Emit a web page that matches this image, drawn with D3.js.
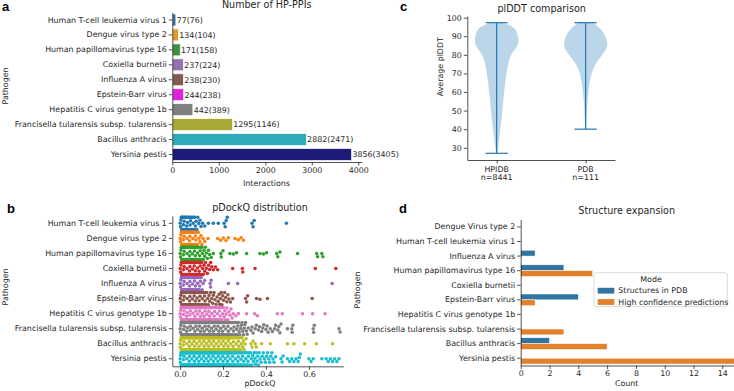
<!DOCTYPE html>
<html>
<head>
<meta charset="utf-8">
<script src="https://cdn.jsdelivr.net/npm/d3@7"></script>
<style>
body { margin: 0; background: #fff; }
svg { display: block; font-family: "DejaVu Sans", sans-serif; }
.axis text { font-family: "DejaVu Sans", sans-serif; font-size: 7.9px; fill: #262626; }
.axis path, .axis line { stroke: #262626; stroke-width: 0.8; }
.lbl { font-size: 7.9px; fill: #262626; }
.ttl { font-size: 9.6px; fill: #262626; }
.panel { font-family: "Liberation Sans", Arial, sans-serif; font-weight: bold; font-size: 13px; fill: #000; }
</style>
</head>
<body>
<svg id="fig" width="734" height="391"></svg>
<script>
// ---- panel a: number of HP-PPIs ----
const pathogens = ["Human T-cell leukemia virus 1", "Dengue virus type 2", "Human papillomavirus type 16",
    "Coxiella burnetii", "Influenza A virus", "Epstein-Barr virus", "Hepatitis C virus genotype 1b",
    "Francisella tularensis subsp. tularensis", "Bacillus anthracis", "Yersinia pestis"];
const interactions = [77, 134, 171, 237, 238, 244, 442, 1295, 2882, 3856];
const uniqueInteractions = [76, 104, 158, 224, 230, 238, 389, 1146, 2471, 3405];
const barColors = ["#3274a1", "#e09a2d", "#3a923a", "#9372b2", "#845b53", "#df22df", "#7f7f7f", "#a9aa35", "#2eabb8", "#1c1c78"];

// ---- panel b: pDockQ swarm (core = counts per 0.01 bin from 0, tail = single values) ----
const swarmColors = ["#1f77b4", "#ff7f0e", "#2ca02c", "#d62728", "#9467bd", "#8c564b", "#e377c2", "#7f7f7f", "#bcbd22", "#17becf"];
const pdockqCore = [
    [6, 6, 6, 5, 5, 5, 4, 3, 2, 2, 1],
    [6, 6, 6, 6, 6, 5, 5, 4, 3, 2, 2, 1],
    [6, 6, 6, 6, 6, 6, 5, 5, 4, 4, 3, 3, 2, 2, 1, 1],
    [6, 6, 6, 6, 6, 6, 6, 5, 5, 4, 3, 3, 2, 2, 2, 1, 1, 1],
    [6, 6, 6, 6, 6, 6, 5, 5, 4, 3, 2, 1],
    [6, 6, 6, 6, 6, 6, 6, 6, 5, 5, 4, 4, 3, 3, 2, 3, 2, 2, 3, 3, 2, 2, 2, 1, 1],
    [7, 7, 7, 7, 7, 7, 7, 7, 7, 7, 7, 7, 7, 6, 6, 5, 5, 4, 4, 3, 3, 3, 2, 2, 2],
    [7, 7, 7, 7, 7, 7, 7, 7, 7, 7, 7, 7, 7, 7, 7, 7, 7, 7, 7, 7, 6, 6, 5, 5, 4, 4, 4, 3, 3, 3, 3, 2],
    [8, 8, 8, 8, 8, 8, 8, 8, 8, 8, 8, 8, 8, 8, 8, 8, 8, 8, 8, 8, 8, 8, 7, 6, 5, 5, 4, 4, 3, 3, 2],
    [9, 9, 9, 9, 9, 9, 9, 9, 9, 9, 9, 9, 9, 9, 9, 9, 9, 9, 9, 9, 9, 9, 8, 7, 6, 6, 5, 5, 5, 4, 4, 4, 3, 3, 3, 3, 3, 2, 2, 2, 2, 2, 2, 2, 1]
];
const pdockqTail = [
    [0.115, 0.132, 0.155, 0.178, 0.205, 0.21, 0.215, 0.22, 0.335, 0.34, 0.345, 0.495],
    [0.13, 0.175, 0.189, 0.202, 0.214, 0.225, 0.256, 0.271, 0.284, 0.295],
    [0.19, 0.192, 0.2, 0.232, 0.248, 0.263, 0.31, 0.372, 0.388, 0.403, 0.45, 0.455, 0.465, 0.547, 0.636, 0.64, 0.66, 0.665],
    [0.245, 0.29, 0.292, 0.349, 0.63, 0.725],
    [0.14, 0.142, 0.145, 0.225, 0.268, 0.708],
    [0.305, 0.31, 0.315, 0.356, 0.372, 0.407, 0.615],
    [0.26, 0.272, 0.31, 0.347, 0.36, 0.453, 0.476, 0.57, 0.617, 0.675],
    [0.33, 0.335, 0.34, 0.35, 0.355, 0.365, 0.37, 0.38, 0.385, 0.39, 0.4, 0.405, 0.41, 0.42, 0.43, 0.44, 0.445,
     0.455, 0.46, 0.465, 0.47, 0.5, 0.52, 0.522, 0.525, 0.62, 0.622, 0.625, 0.74, 0.745],
    [0.33, 0.335, 0.34, 0.35, 0.355, 0.38, 0.42, 0.5, 0.53, 0.58, 0.635, 0.71],
    [0.47, 0.475, 0.48, 0.5, 0.51, 0.52, 0.53, 0.54, 0.55, 0.555, 0.56, 0.6, 0.61, 0.62, 0.66, 0.68, 0.69, 0.7, 0.71, 0.72, 0.73, 0.74]
];

// ---- panel c: plDDT violins ([value, relative half width]) ----
const violinGroups = ["HPIDB", "PDB"];
const violinN = [8441, 111];
const violinRange = [[27, 97.3], [40, 97.3]];
const hpidbDensity = [[97.3, 0.33], [95, 0.75], [93.4, 0.87], [90, 0.97], [86.5, 1.0], [83, 0.85], [80.8, 0.67],
    [78, 0.58], [75.4, 0.52], [72, 0.47], [68.2, 0.42], [64, 0.37], [59.3, 0.33], [55, 0.29], [50.3, 0.26],
    [46, 0.22], [41.3, 0.18], [37, 0.13], [32.4, 0.09], [29, 0.05], [27, 0.02]];
const pdbDensity = [[97.3, 0.35], [95, 0.58], [93.4, 0.72], [90, 0.9], [86.5, 0.97], [85, 0.98], [83, 0.92],
    [80.8, 0.8], [78, 0.62], [75.4, 0.45], [72, 0.32], [68.2, 0.22], [64, 0.16], [59.3, 0.12], [55, 0.08],
    [50.3, 0.06], [45, 0.04], [40, 0.02]];

// ---- panel d: structure expansion ----
const structPathogens = ["Dengue Virus type 2", "Human T-cell leukemia virus 1", "Influenza A virus",
    "Human papillomavirus type 16", "Coxiella burnetii", "Epstein-Barr virus", "Hepatitis C virus genotype 1b",
    "Francisella tularensis subsp. tularensis", "Bacillus anthracis", "Yersinia pestis"];
const structInPdb = [0, 0, 1, 3, 0, 4, 0, 0, 2, 0];
const highConfidence = [0, 0, 0, 5, 0, 1, 0, 3, 6, 15];
const modeNames = ["Structures in PDB", "High confidence predictions"];
const modeColors = ["#3274a1", "#e1812c"];

const svg = d3.select("#fig");

function panelLetter(t, x, y) {
    svg.append("text").attr("class", "panel").attr("x", x).attr("y", y).text(t);
}
function yLabel(t, x, y) {
    svg.append("text").attr("class", "lbl").attr("text-anchor", "middle")
        .attr("transform", "translate(" + x + "," + y + ") rotate(-90)").text(t);
}
function textAt(cls, t, x, y, anchor) {
    return svg.append("text").attr("class", cls).attr("x", x).attr("y", y)
        .attr("text-anchor", anchor || "middle").text(t);
}

// ================= panel a =================
const xA = d3.scaleLinear().domain([0, 4073]).range([172.3, 361.7]);
const yA = d3.scaleBand().domain(pathogens).range([12.5, 162]);

svg.append("g").selectAll("rect").data(pathogens).enter().append("rect")
    .attr("x", xA(0))
    .attr("y", d => yA(d) + yA.bandwidth() * 0.1)
    .attr("width", (d, i) => xA(interactions[i]) - xA(0))
    .attr("height", yA.bandwidth() * 0.8)
    .attr("fill", (d, i) => barColors[i])
    .attr("stroke", "#fff").attr("stroke-width", 0.7);

svg.append("g").selectAll("text").data(pathogens).enter().append("text")
    .attr("class", "lbl")
    .attr("x", (d, i) => xA(interactions[i]) + 0.8)
    .attr("y", d => yA(d) + yA.bandwidth() / 2)
    .attr("dy", "0.36em")
    .text((d, i) => interactions[i] + "(" + uniqueInteractions[i] + ")");

svg.append("g").attr("class", "axis").attr("transform", "translate(" + xA(0) + ",0)")
    .call(d3.axisLeft(yA).tickSize(3.5).tickSizeOuter(0).tickPadding(2));
svg.append("g").attr("class", "axis").attr("transform", "translate(0,162)")
    .call(d3.axisBottom(xA).tickValues([0, 1000, 2000, 3000, 4000]).tickFormat(d3.format("d"))
        .tickSize(3.5).tickSizeOuter(0).tickPadding(1.5));

textAt("ttl", "Number of HP-PPIs", 266.7, 7.8);
textAt("lbl", "Interactions", 266.5, 185.5);
yLabel("Pathogen", 7.5, 86);
panelLetter("a", 2, 10.5);

// ================= panel b =================
const xB = d3.scaleLinear().domain([-0.036, 0.76]).range([172.3, 343.3]);
const yB = d3.scaleBand().domain(pathogens).range([215.8, 366.3]);
const swarmR = 1.75, swarmHalf = 6.1;

function beeswarm(xs) {
    const pts = xs.map(x => ({ x: x })).sort((a, b) => a.x - b.x);
    const placed = [];
    const d2 = 4 * swarmR * swarmR;
    pts.forEach(p => {
        const near = [];
        for (let j = placed.length - 1; j >= 0 && p.x - placed[j].x < 2 * swarmR; j--) near.push(placed[j]);
        const cands = [0];
        near.forEach(q => {
            const dy = Math.sqrt(d2 - (p.x - q.x) * (p.x - q.x));
            cands.push(q.y + dy, q.y - dy);
        });
        cands.sort((a, b) => Math.abs(a) - Math.abs(b));
        let y = cands.find(c => near.every(q => (p.x - q.x) * (p.x - q.x) + (c - q.y) * (c - q.y) >= d2 - 1e-6));
        // points that do not fit go to the edge of the band
        if (Math.abs(y) > swarmHalf) y = Math.sign(y) * swarmHalf;
        p.y = y;
        placed.push(p);
    });
    return placed;
}

const swarmG = svg.append("g");
pathogens.forEach((p, i) => {
    const vals = [];
    pdockqCore[i].forEach((n, b) => {
        for (let k = 0; k < n; k++) vals.push(b * 0.01 + (k + 0.5) / n * 0.01);
    });
    pdockqTail[i].forEach(v => vals.push(v));
    const cy = yB(p) + yB.bandwidth() / 2;
    swarmG.append("g").selectAll("circle").data(beeswarm(vals.map(v => xB(v)))).enter().append("circle")
        .attr("cx", d => d.x)
        .attr("cy", d => cy + d.y)
        .attr("r", swarmR)
        .attr("fill", swarmColors[i]);
});

svg.append("g").attr("class", "axis").attr("transform", "translate(172.3,0)")
    .call(d3.axisLeft(yB).tickSize(3.5).tickSizeOuter(0).tickPadding(2));
svg.append("g").attr("class", "axis").attr("transform", "translate(0,366.3)")
    .call(d3.axisBottom(xB).tickValues([0, 0.2, 0.4, 0.6]).tickFormat(d3.format(".1f"))
        .tickSize(3.5).tickSizeOuter(0).tickPadding(1.2));

textAt("ttl", "pDockQ distribution", 260, 210.7);
textAt("lbl", "pDockQ", 260, 386);
yLabel("Pathogen", 7.5, 287);
panelLetter("b", 7, 213);

// ================= panel c =================
const xC = d3.scaleLinear().domain([0.67, 2.33]).range([467.3, 615]);
const yC = d3.scaleLinear().domain([23.4, 100.9]).range([160, 16]);
const halfW = 0.25, capW = 0.125;
const densities = [hpidbDensity, pdbDensity];

violinGroups.forEach((g, i) => {
    const pos = i + 1;
    const area = d3.area()
        .y(d => yC(d[0]))
        .x0(d => xC(pos - d[1] * halfW))
        .x1(d => xC(pos + d[1] * halfW))
        .curve(d3.curveBasis);
    svg.append("path").datum(densities[i]).attr("d", area)
        .attr("fill", "#1f77b4").attr("fill-opacity", 0.3);
    const lg = svg.append("g").attr("stroke", "#1f77b4").attr("stroke-width", 1.2);
    lg.append("line").attr("x1", xC(pos)).attr("x2", xC(pos))
        .attr("y1", yC(violinRange[i][0])).attr("y2", yC(violinRange[i][1]));
    violinRange[i].forEach(v => {
        lg.append("line").attr("x1", xC(pos - capW)).attr("x2", xC(pos + capW))
            .attr("y1", yC(v)).attr("y2", yC(v));
    });
});

svg.append("g").attr("class", "axis").attr("transform", "translate(467.3,0)")
    .call(d3.axisLeft(yC).tickValues(d3.range(30, 101, 10)).tickSize(3.5).tickSizeOuter(0).tickPadding(2));
svg.append("g").attr("class", "axis").attr("transform", "translate(0,160)")
    .call(d3.axisBottom(xC).tickValues([1, 2]).tickFormat("").tickSize(3.5).tickSizeOuter(0));
violinGroups.forEach((g, i) => {
    textAt("lbl", g, xC(i + 1), 171.5);
    textAt("lbl", "n=" + violinN[i], xC(i + 1), 180);
});

textAt("ttl", "plDDT comparison", 541.7, 11.7);
yLabel("Average plDDT", 442.5, 66.7);
panelLetter("c", 400, 10.5);

// ================= panel d =================
const xD = d3.scaleLinear().domain([0, 15.75]).range([520.7, 747.5]);
const yD = d3.scaleBand().domain(structPathogens).range([219.6, 365.5]);
const modeValues = [structInPdb, highConfidence];

modeValues.forEach((vals, m) => {
    svg.append("g").selectAll("rect").data(structPathogens).enter().append("rect")
        .attr("x", xD(0))
        .attr("y", d => yD(d) + yD.bandwidth() * (0.1 + 0.4 * m))
        .attr("width", (d, i) => xD(vals[i]) - xD(0))
        .attr("height", yD.bandwidth() * 0.4)
        .attr("fill", modeColors[m])
        .attr("stroke", "#fff").attr("stroke-width", 0.5);
});

svg.append("g").attr("class", "axis").attr("transform", "translate(520.7,0)")
    .call(d3.axisLeft(yD).tickSize(3.5).tickSizeOuter(0).tickPadding(2));
svg.append("g").attr("class", "axis").attr("transform", "translate(0,365.5)")
    .call(d3.axisBottom(xD).tickValues(d3.range(0, 15, 2)).tickSize(3.5).tickSizeOuter(0).tickPadding(1.2));

textAt("ttl", "Structure expansion", 626.7, 214);
textAt("lbl", "Count", 626.7, 386);
yLabel("Pathogen", 360, 290);
panelLetter("d", 399, 212.5);

// legend
const leg = svg.append("g");
leg.append("rect").attr("x", 594).attr("y", 272.7).attr("width", 133.3).attr("height", 34)
    .attr("rx", 2).attr("fill", "#fff").attr("fill-opacity", 0.8).attr("stroke", "#d0d0d0").attr("stroke-width", 0.8);
textAt("lbl", "Mode", 651, 281.7);
modeNames.forEach((name, m) => {
    leg.append("rect").attr("x", 597.7).attr("y", 287.8 + m * 11.3).attr("width", 16.6).attr("height", 5.8)
        .attr("fill", modeColors[m]);
    textAt("lbl", name, 618.3, 293.2 + m * 11.3, "start");
});
</script>
</body>
</html>
